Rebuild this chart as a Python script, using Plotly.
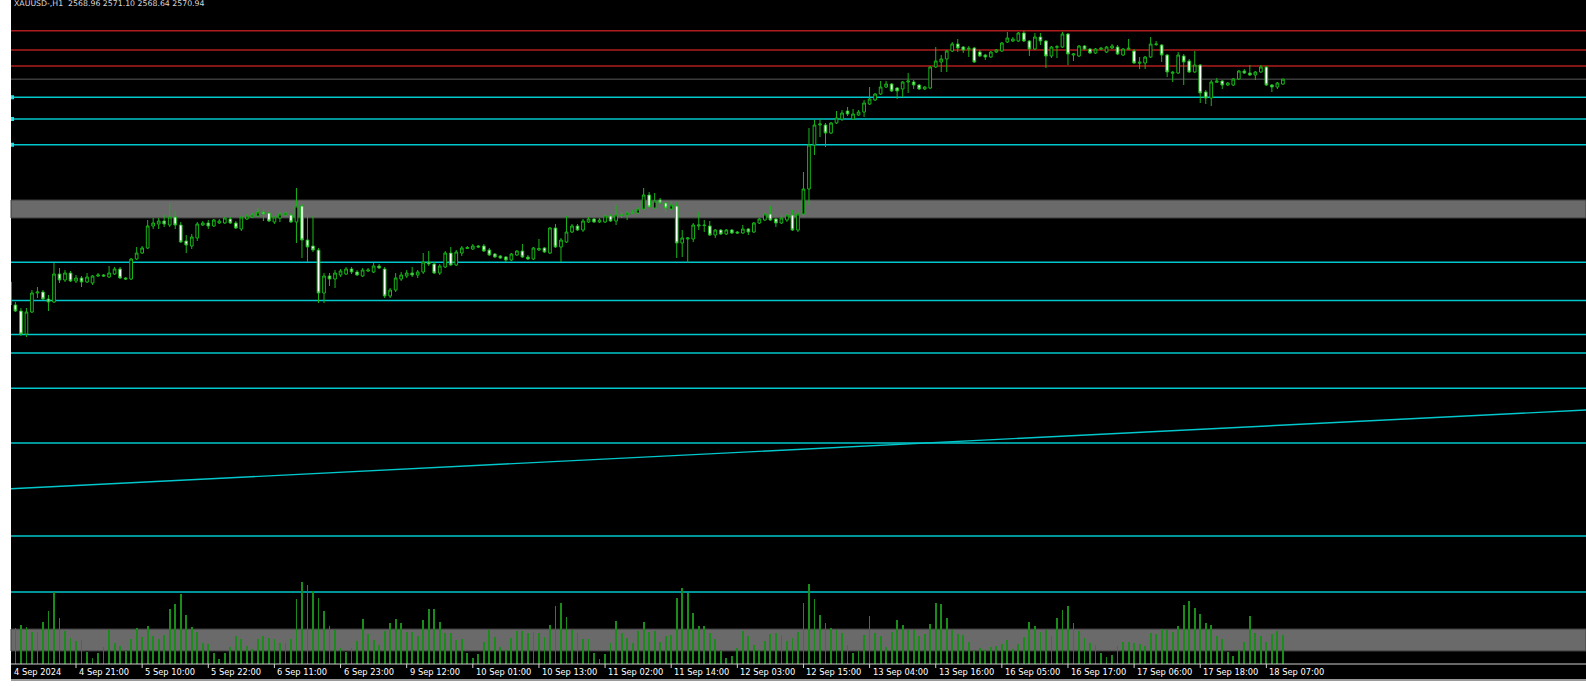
import plotly.graph_objects as go

# ---------------- data (XAUUSD H1) ----------------
symbol_header = "XAUUSD-,H1  2568.96 2571.10 2568.64 2570.94"

opens = [2489.8, 2480.6, 2478.2, 2469.0, 2477.8, 2485.4, 2485.8, 2483.0, 2481.8, 2493.0,
         2490.6, 2493.4, 2490.2, 2491.4, 2489.8, 2489.4, 2492.2, 2492.6, 2491.8, 2493.0,
         2495.0, 2491.4, 2491.0, 2499.0, 2501.4, 2503.4, 2512.2, 2513.0, 2514.2, 2512.6,
         2515.8, 2512.6, 2506.2, 2504.2, 2507.4, 2512.6, 2513.4, 2512.2, 2513.4, 2513.4,
         2515.0, 2513.4, 2511.0, 2515.0, 2515.8, 2516.2, 2517.8, 2517.4, 2513.8, 2515.4,
         2516.6, 2516.6, 2513.8, 2520.2, 2506.6, 2504.2, 2502.6, 2485.4, 2492.2, 2491.0,
         2492.6, 2493.0, 2495.0, 2493.8, 2492.2, 2494.2, 2493.8, 2496.2, 2495.0, 2484.2,
         2486.6, 2491.0, 2492.2, 2493.4, 2492.6, 2493.8, 2497.8, 2497.0, 2493.4, 2495.8,
         2501.4, 2496.6, 2501.4, 2503.2, 2503.0, 2504.2, 2504.2, 2502.6, 2501.0, 2500.2,
         2499.8, 2498.6, 2500.6, 2502.2, 2499.8, 2499.0, 2502.6, 2503.4, 2501.4, 2511.4,
         2503.8, 2505.8, 2509.8, 2512.2, 2510.6, 2513.8, 2515.0, 2513.8, 2513.8, 2516.2,
         2514.2, 2516.4, 2516.6, 2517.4, 2517.4, 2519.0, 2524.6, 2519.4, 2522.6, 2521.4,
         2519.0, 2520.2, 2505.4, 2507.0, 2507.0, 2512.2, 2512.6, 2512.2, 2508.6, 2510.6,
         2509.0, 2510.6, 2509.8, 2509.4, 2511.0, 2509.8, 2513.4, 2514.6, 2517.0, 2515.0,
         2513.4, 2514.6, 2516.6, 2510.6, 2517.0, 2527.0, 2544.6, 2552.6, 2552.6, 2549.4,
         2553.4, 2555.0, 2558.2, 2555.0, 2556.6, 2557.8, 2561.0, 2562.6, 2565.0, 2567.8,
         2569.0, 2567.4, 2567.0, 2569.8, 2569.8, 2568.6, 2567.0, 2567.4, 2575.8, 2577.8,
         2579.0, 2582.2, 2585.0, 2583.8, 2582.9, 2583.4, 2581.8, 2580.6, 2579.8, 2581.8,
         2582.2, 2585.8, 2586.2, 2586.2, 2589.4, 2586.2, 2583.0, 2587.8, 2586.2, 2580.2,
         2583.7, 2583.8, 2589.0, 2580.6, 2580.2, 2584.2, 2583.0, 2581.4, 2582.9, 2581.8,
         2583.4, 2583.8, 2580.6, 2582.9, 2582.2, 2577.3, 2577.4, 2579.8, 2584.8, 2584.6,
         2580.6, 2573.3, 2573.4, 2580.2, 2578.2, 2573.8, 2576.6, 2565.8, 2563.4, 2569.7,
         2570.2, 2568.6, 2568.6, 2571.0, 2574.2, 2573.4, 2572.6, 2573.8, 2575.8, 2568.6,
         2567.8, 2568.96]

highs = [2490.6, 2481.8, 2479.4, 2479.4, 2486.6, 2487.8, 2486.6, 2484.6, 2497.4, 2495.4,
         2494.6, 2494.2, 2492.6, 2492.2, 2493.4, 2492.6, 2493.4, 2493.0, 2496.2, 2495.8,
         2495.8, 2491.8, 2499.4, 2503.8, 2504.2, 2514.6, 2515.4, 2515.4, 2516.6, 2521.4,
         2518.2, 2513.8, 2508.6, 2509.0, 2513.8, 2514.2, 2514.6, 2515.0, 2515.0, 2515.8,
         2515.8, 2514.2, 2515.8, 2517.0, 2517.4, 2519.4, 2519.0, 2517.8, 2516.2, 2517.8,
         2517.8, 2517.4, 2527.4, 2521.0, 2516.6, 2516.2, 2503.4, 2493.4, 2493.4, 2494.6,
         2495.0, 2495.8, 2495.8, 2494.6, 2495.4, 2495.4, 2497.4, 2497.0, 2495.8, 2487.4,
         2493.4, 2493.8, 2494.6, 2495.8, 2494.6, 2501.4, 2502.2, 2497.8, 2497.0, 2502.2,
         2503.8, 2502.6, 2504.2, 2504.2, 2505.0, 2504.6, 2505.0, 2503.4, 2501.4, 2500.6,
         2500.2, 2501.4, 2502.6, 2505.0, 2500.6, 2503.8, 2507.0, 2503.8, 2511.8, 2513.0,
         2507.4, 2516.2, 2513.0, 2513.0, 2515.0, 2515.8, 2515.4, 2515.4, 2516.6, 2517.0,
         2520.6, 2517.8, 2518.2, 2518.6, 2519.8, 2527.4, 2525.8, 2525.4, 2523.4, 2521.8,
         2522.2, 2521.8, 2510.6, 2507.8, 2513.4, 2517.8, 2514.6, 2514.2, 2511.0, 2511.0,
         2511.0, 2511.0, 2510.2, 2512.6, 2511.4, 2513.8, 2515.4, 2517.4, 2520.2, 2515.4,
         2517.0, 2517.0, 2518.6, 2517.8, 2533.8, 2551.4, 2554.6, 2555.0, 2553.4, 2553.8,
         2558.2, 2558.6, 2559.8, 2559.0, 2558.6, 2562.6, 2567.8, 2565.4, 2570.2, 2570.2,
         2569.4, 2567.8, 2570.2, 2573.4, 2570.6, 2569.0, 2568.2, 2576.2, 2583.8, 2580.6,
         2582.6, 2585.8, 2587.0, 2584.2, 2584.2, 2583.8, 2582.6, 2581.0, 2582.2, 2583.0,
         2585.8, 2589.8, 2587.8, 2589.8, 2590.2, 2586.6, 2589.4, 2589.4, 2586.6, 2584.2,
         2584.6, 2589.9, 2589.4, 2581.4, 2584.6, 2584.6, 2583.4, 2583.4, 2583.8, 2584.2,
         2585.0, 2584.6, 2583.4, 2587.0, 2583.0, 2579.8, 2580.2, 2587.8, 2586.2, 2585.0,
         2581.0, 2574.2, 2581.8, 2581.0, 2579.0, 2582.2, 2577.0, 2566.6, 2570.6, 2571.4,
         2570.6, 2569.8, 2571.4, 2574.6, 2575.0, 2576.6, 2574.2, 2576.6, 2576.2, 2569.0,
         2569.8, 2571.10]

lows = [2480.2, 2477.8, 2468.2, 2467.8, 2477.4, 2483.4, 2482.6, 2478.2, 2481.4, 2489.4,
        2489.8, 2489.8, 2489.4, 2487.8, 2489.4, 2488.6, 2491.8, 2491.8, 2491.4, 2492.6,
        2491.0, 2490.6, 2490.6, 2498.6, 2501.0, 2503.0, 2511.0, 2511.0, 2511.8, 2511.8,
        2511.0, 2505.4, 2501.4, 2503.0, 2506.2, 2512.2, 2511.0, 2511.8, 2513.0, 2513.0,
        2513.0, 2511.0, 2510.2, 2514.6, 2515.4, 2515.8, 2514.2, 2513.8, 2513.0, 2513.8,
        2516.2, 2513.4, 2505.4, 2499.4, 2497.8, 2501.8, 2481.4, 2481.4, 2488.2, 2487.4,
        2491.8, 2492.6, 2493.0, 2492.2, 2491.8, 2493.8, 2493.4, 2495.0, 2483.4, 2483.4,
        2485.8, 2490.2, 2491.4, 2491.8, 2491.4, 2493.0, 2496.2, 2493.0, 2492.6, 2495.4,
        2496.2, 2496.2, 2500.2, 2503.0, 2502.6, 2503.4, 2501.8, 2500.2, 2499.4, 2499.0,
        2497.8, 2498.2, 2500.2, 2499.4, 2498.6, 2498.6, 2502.2, 2501.4, 2501.0, 2503.4,
        2497.8, 2505.4, 2509.4, 2510.2, 2509.8, 2513.4, 2513.4, 2513.4, 2513.4, 2513.8,
        2512.6, 2515.4, 2514.6, 2517.0, 2517.0, 2518.6, 2519.4, 2519.0, 2521.0, 2517.8,
        2518.6, 2499.4, 2499.8, 2497.4, 2505.8, 2510.6, 2509.8, 2508.2, 2507.4, 2508.6,
        2508.6, 2509.0, 2509.0, 2509.0, 2508.6, 2509.4, 2513.0, 2514.2, 2514.2, 2511.8,
        2513.0, 2513.8, 2510.2, 2509.8, 2515.8, 2520.6, 2540.6, 2547.8, 2543.8, 2549.0,
        2553.0, 2554.2, 2556.2, 2554.6, 2556.2, 2555.8, 2560.6, 2562.2, 2564.6, 2567.4,
        2565.8, 2563.0, 2563.8, 2565.4, 2567.0, 2566.6, 2566.6, 2567.0, 2575.4, 2573.8,
        2573.8, 2581.8, 2581.8, 2581.4, 2579.8, 2577.4, 2579.8, 2578.6, 2579.4, 2581.4,
        2581.8, 2585.4, 2585.8, 2585.8, 2585.8, 2580.2, 2582.6, 2584.6, 2575.4, 2579.4,
        2579.4, 2583.4, 2576.6, 2578.2, 2579.8, 2582.6, 2581.0, 2581.0, 2582.6, 2581.4,
        2583.0, 2580.6, 2580.2, 2582.6, 2577.0, 2575.0, 2575.0, 2579.4, 2584.2, 2577.8,
        2571.8, 2569.8, 2573.0, 2568.6, 2573.4, 2573.4, 2561.4, 2561.0, 2560.2, 2569.4,
        2567.0, 2568.2, 2568.2, 2570.6, 2573.0, 2572.2, 2570.6, 2573.4, 2568.2, 2565.8,
        2567.0, 2568.64]

closes = [2480.6, 2478.2, 2469.0, 2477.8, 2485.4, 2485.8, 2483.0, 2481.8, 2493.0, 2490.6,
          2493.4, 2490.2, 2491.4, 2489.8, 2491.8, 2492.2, 2492.6, 2492.2, 2493.4, 2495.0,
          2491.4, 2491.0, 2499.0, 2501.4, 2503.4, 2512.2, 2513.4, 2514.2, 2513.0, 2515.8,
          2512.6, 2505.8, 2504.6, 2507.8, 2513.0, 2513.4, 2512.2, 2514.6, 2514.2, 2515.4,
          2513.4, 2511.4, 2515.8, 2516.2, 2516.6, 2517.8, 2517.0, 2514.2, 2515.8, 2517.0,
          2517.4, 2513.8, 2520.2, 2506.6, 2503.8, 2502.6, 2485.4, 2492.2, 2491.0, 2493.4,
          2494.2, 2495.0, 2493.8, 2492.6, 2494.6, 2494.6, 2496.2, 2495.4, 2484.2, 2486.6,
          2491.4, 2492.6, 2493.4, 2492.6, 2493.8, 2497.8, 2497.0, 2493.4, 2496.2, 2501.4,
          2496.6, 2501.8, 2503.4, 2503.6, 2504.2, 2503.8, 2502.2, 2500.6, 2499.8, 2499.4,
          2498.6, 2501.0, 2502.2, 2499.8, 2499.0, 2503.4, 2503.2, 2501.8, 2511.4, 2503.8,
          2506.6, 2509.8, 2512.2, 2510.6, 2514.2, 2515.0, 2513.8, 2514.6, 2516.2, 2514.2,
          2516.6, 2516.6, 2517.4, 2517.6, 2519.0, 2524.6, 2519.8, 2522.2, 2521.4, 2519.4,
          2520.6, 2505.4, 2507.4, 2507.4, 2512.6, 2512.6, 2512.4, 2508.6, 2510.6, 2509.0,
          2510.6, 2509.4, 2509.4, 2511.0, 2509.8, 2513.4, 2515.0, 2517.0, 2514.6, 2513.4,
          2515.4, 2516.6, 2510.6, 2517.0, 2527.0, 2544.6, 2552.6, 2553.0, 2549.4, 2553.4,
          2555.4, 2557.4, 2557.0, 2557.0, 2557.8, 2561.4, 2563.0, 2565.0, 2567.8, 2569.0,
          2566.2, 2566.2, 2569.8, 2570.2, 2568.6, 2567.0, 2567.8, 2575.8, 2578.2, 2579.0,
          2582.2, 2585.0, 2583.4, 2582.6, 2583.3, 2577.8, 2580.2, 2579.8, 2581.8, 2582.6,
          2585.4, 2587.4, 2587.0, 2589.4, 2586.2, 2583.0, 2587.8, 2586.2, 2580.2, 2583.8,
          2583.9, 2589.0, 2581.0, 2581.0, 2584.2, 2583.0, 2581.4, 2583.0, 2583.3, 2583.8,
          2584.2, 2581.0, 2583.0, 2583.3, 2577.4, 2577.7, 2579.8, 2585.0, 2585.0, 2580.6,
          2573.8, 2573.7, 2580.6, 2577.8, 2573.8, 2576.6, 2565.4, 2563.4, 2569.8, 2570.2,
          2568.6, 2569.4, 2571.0, 2574.2, 2573.4, 2572.6, 2573.8, 2575.8, 2568.6, 2567.8,
          2569.4, 2570.94]

volumes = [3500, 3600, 3900, 3700, 3200, 3200, 4200, 5300, 7200, 4600,
           3300, 2600, 2300, 2400, 1200, 600, 1100, 1700, 3400, 2100,
           1800, 1300, 2500, 3600, 2700, 3800, 2800, 2500, 2900, 5500,
           6000, 7000, 4900, 3700, 3200, 2100, 2000, 1100, 500, 1100,
           1700, 2800, 2500, 1800, 1500, 2500, 2800, 2600, 2500, 2100,
           2100, 2500, 6500, 8200, 7900, 7300, 6600, 5300, 3800, 3400,
           1600, 1200, 1600, 2300, 4500, 3000, 2400, 1900, 3300, 4100,
           4500, 4100, 3200, 3200, 2800, 4400, 5500, 5500, 4200, 3100,
           3100, 2400, 2500, 1100, 600, 1000, 2200, 3400, 2700, 1700,
           1400, 2600, 3300, 3300, 3100, 3200, 3100, 2700, 3900, 5800,
           6100, 4700, 3400, 3100, 2500, 2500, 1100, 500, 1000, 2100,
           4300, 3100, 2600, 2100, 3300, 4200, 3200, 3300, 2200, 2800,
           2900, 6600, 7600, 7100, 5100, 3800, 3800, 3100, 2500, 1300,
           600, 800, 1600, 3300, 2800, 1900, 1400, 2300, 3000, 3100,
           2900, 2300, 2600, 3200, 6100, 8000, 6500, 4900, 4100, 3600,
           3400, 3100, 1900, 1100, 1300, 2900, 4800, 3100, 2800, 1700,
           3200, 4400, 3900, 3400, 3400, 2800, 3000, 4000, 6100, 6000,
           4600, 3400, 3000, 2900, 2200, 1300, 1600, 1400, 1700, 1800,
           2000, 2400, 1500, 2000, 2700, 4200, 3800, 3200, 3400, 2800,
           4600, 5400, 5800, 4100, 3300, 2600, 2100, 1900, 1100, 700,
           900, 1800, 2200, 2200, 2100, 2000, 1800, 3100, 3000, 3500,
           3400, 3200, 3800, 5900, 6300, 5600, 5000, 4100, 3900, 2800,
           2500, 1200, 800, 1400, 2200, 4800, 3100, 2800, 2200, 3000,
           3300, 2900]

# time-axis labels and the bar index they sit at
time_labels = ["4 Sep 2024", "4 Sep 21:00", "5 Sep 10:00", "5 Sep 22:00", "6 Sep 11:00",
               "6 Sep 23:00", "9 Sep 12:00", "10 Sep 01:00", "10 Sep 13:00", "11 Sep 02:00",
               "11 Sep 14:00", "12 Sep 03:00", "12 Sep 15:00", "13 Sep 04:00", "13 Sep 16:00",
               "16 Sep 05:00", "16 Sep 17:00", "17 Sep 06:00", "17 Sep 18:00", "18 Sep 07:00"]
label_bars = [0, 12, 24, 36, 48, 60, 72, 84, 96, 108, 120, 132, 144, 156, 168, 180, 192, 204, 216, 228]

# drawn objects (price levels)
red_levels = [2590.3, 2582.6, 2576.2]
bid_level = 2570.94
cyan_levels = [2563.7, 2555.0, 2544.7, 2497.7, 2482.4, 2468.8, 2461.4, 2447.3, 2425.4, 2388.2, 2365.8]
marked_levels = [2563.7, 2555.0, 2544.7]
zones = [(2515.4, 2522.6), (2342.2, 2351.0)]
trend_bars = [0.2, 286.0]
trend_prices = [2407.1, 2438.6]

X_RANGE = [0.2, 286.0]

# ---------------- figure ----------------
n = min(len(opens), len(highs), len(lows), len(closes))
idx = list(range(n))
hi = [max(highs[i], opens[i], closes[i]) for i in idx]
lo = [min(lows[i], opens[i], closes[i]) for i in idx]

CANDLE = "#18b418"
CYAN = "#00c8cc"

fig = go.Figure()

fig.add_trace(go.Bar(
    x=list(range(len(volumes))), y=volumes, yaxis="y2", width=0.15,
    marker=dict(color="#1a8c1a", line=dict(width=0)), hoverinfo="skip", showlegend=False))

fig.add_trace(go.Candlestick(
    x=idx, open=opens[:n], high=hi, low=lo, close=closes[:n],
    increasing=dict(line=dict(color=CANDLE, width=1), fillcolor="#000000"),
    decreasing=dict(line=dict(color=CANDLE, width=1), fillcolor="#ffffff"),
    whiskerwidth=0, hoverinfo="skip", showlegend=False))

shapes = []
for lo_p, hi_p in zones:
    shapes.append(dict(type="rect", xref="paper", yref="y", x0=0, x1=1, y0=lo_p, y1=hi_p,
                       fillcolor="#6a6a6a", line=dict(color="#3c3c3c", width=1), layer="below"))
for p in red_levels:
    shapes.append(dict(type="line", xref="paper", yref="y", x0=0, x1=1, y0=p, y1=p,
                       line=dict(color="#b01c1c", width=1.3), layer="below"))
shapes.append(dict(type="line", xref="paper", yref="y", x0=0, x1=1, y0=bid_level, y1=bid_level,
                   line=dict(color="#5a5a5a", width=1), layer="below"))
for p in cyan_levels:
    shapes.append(dict(type="line", xref="paper", yref="y", x0=0, x1=1, y0=p, y1=p,
                       line=dict(color=CYAN, width=1.6), layer="below"))
for p in marked_levels:
    shapes.append(dict(type="rect", xref="paper", yref="y", xsizemode="pixel", ysizemode="pixel",
                       xanchor=0, yanchor=p, x0=0, x1=3, y0=-2, y1=2,
                       fillcolor="#20e0e8", line=dict(width=0), layer="above"))
shapes.append(dict(type="line", xref="x", yref="y", x0=trend_bars[0], x1=trend_bars[1],
                   y0=trend_prices[0], y1=trend_prices[1],
                   line=dict(color=CYAN, width=1.4), layer="below"))

# time axis strip
H = 664.0
shapes.append(dict(type="rect", xref="paper", yref="paper", x0=0, x1=1, y0=-15 / H, y1=0,
                   fillcolor="#000000", line=dict(width=0), layer="below"))
shapes.append(dict(type="line", xref="paper", yref="paper", x0=0, x1=1, y0=0, y1=0,
                   line=dict(color="#cfcfcf", width=1), layer="above"))
shapes.append(dict(type="rect", xref="paper", yref="paper", x0=0, x1=1, y0=-17 / H, y1=-15 / H,
                   fillcolor="#9a9a9a", line=dict(width=0), layer="above"))
for b in label_bars[1:]:
    shapes.append(dict(type="line", xref="x", yref="paper", x0=b, x1=b, y0=0, y1=-4 / H,
                       line=dict(color="#cfcfcf", width=1), layer="above"))

annotations = []
for b, t in zip(label_bars, time_labels):
    annotations.append(dict(x=max(b, X_RANGE[0]), xref="x", y=0, yref="paper", text=t,
                            showarrow=False, xanchor="left", yanchor="top", xshift=1, yshift=-1,
                            font=dict(family="DejaVu Sans", size=8.3, color="#ffffff")))
annotations.append(dict(x=0, xref="paper", y=1, yref="paper", text=symbol_header,
                        showarrow=False, xanchor="left", yanchor="top", xshift=1, yshift=3,
                        font=dict(family="DejaVu Sans", size=7.8, color="#d8d8d8")))

fig.update_layout(
    width=1586, height=686,
    margin=dict(l=11, r=0, t=0, b=22, pad=0),
    paper_bgcolor="#ffffff", plot_bgcolor="#000000",
    showlegend=False, bargap=0,
    xaxis=dict(range=X_RANGE, showgrid=False, zeroline=False, showticklabels=False,
               ticks="", showline=False, rangeslider=dict(visible=False), fixedrange=True),
    yaxis=dict(range=[2337.0, 2602.6], showgrid=False, zeroline=False, showticklabels=False,
               ticks="", showline=False, fixedrange=True),
    yaxis2=dict(range=[0, 66400], overlaying="y", visible=False, fixedrange=True),
    shapes=shapes, annotations=annotations,
)

fig.write_html("out.html", config={"displayModeBar": False},
               post_script="document.body.style.margin='0';document.body.style.padding='0';")
